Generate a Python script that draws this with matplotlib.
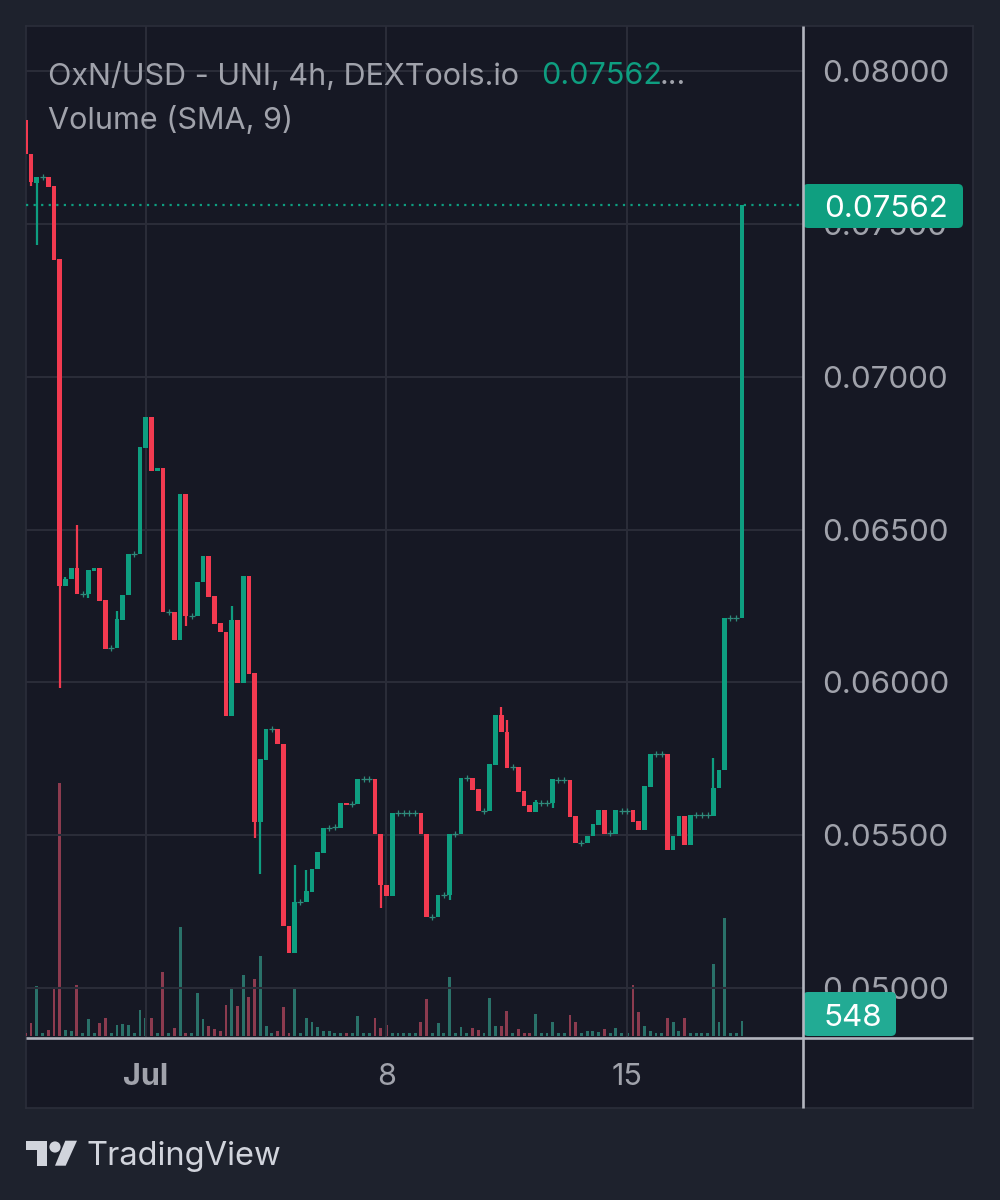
import numpy as np
import matplotlib
matplotlib.use("Agg")
import matplotlib.pyplot as plt
from matplotlib.patches import FancyBboxPatch, Circle, Polygon

plt.rcParams['font.family'] = ['Inter', 'DejaVu Sans']

# 4h candles, bar 0 is the 1 Jul open
bars = np.arange(-21, 105)

opens = [
    0.07841, 0.07730, 0.07635, 0.07654, 0.07654, 0.07625, 0.07386, 0.06315, 0.06338, 0.06374,
    0.06289, 0.06289, 0.06364, 0.06374, 0.06269, 0.06112, 0.06112, 0.06204, 0.06286, 0.06420,
    0.06420, 0.06767, 0.06869, 0.06692, 0.06702, 0.06230, 0.06230, 0.06138, 0.06616, 0.06217,
    0.06217, 0.06328, 0.06413, 0.06282, 0.06194, 0.06165, 0.05890, 0.06204, 0.05998, 0.06348,
    0.06030, 0.05542, 0.05745, 0.05847, 0.05847, 0.05798, 0.05202, 0.05113, 0.05280, 0.05280,
    0.05313, 0.05389, 0.05441, 0.05523, 0.05526, 0.05523, 0.05605, 0.05601, 0.05601, 0.05683,
    0.05683, 0.05683, 0.05503, 0.05336, 0.05300, 0.05572, 0.05572, 0.05572, 0.05572, 0.05572,
    0.05503, 0.05231, 0.05231, 0.05303, 0.05303, 0.05503, 0.05503, 0.05687, 0.05687, 0.05650,
    0.05579, 0.05579, 0.05729, 0.05893, 0.05837, 0.05723, 0.05723, 0.05644, 0.05598, 0.05575,
    0.05605, 0.05605, 0.05605, 0.05680, 0.05680, 0.05680, 0.05562, 0.05474, 0.05474, 0.05497,
    0.05533, 0.05582, 0.05506, 0.05503, 0.05579, 0.05579, 0.05582, 0.05546, 0.05516, 0.05657,
    0.05765, 0.05765, 0.05765, 0.05451, 0.05497, 0.05562, 0.05467, 0.05565, 0.05565, 0.05565,
    0.05562, 0.05654, 0.05713, 0.06210, 0.06210, 0.06210,
]
closes = [
    0.07730, 0.07638, 0.07654, 0.07654, 0.07622, 0.07383, 0.06315, 0.06338, 0.06374, 0.06289,
    0.06289, 0.06368, 0.06374, 0.06266, 0.06109, 0.06112, 0.06207, 0.06286, 0.06420, 0.06420,
    0.06770, 0.06869, 0.06692, 0.06702, 0.06230, 0.06230, 0.06138, 0.06616, 0.06217, 0.06217,
    0.06328, 0.06413, 0.06279, 0.06191, 0.06165, 0.05890, 0.06204, 0.05998, 0.06348, 0.06027,
    0.05542, 0.05749, 0.05847, 0.05847, 0.05798, 0.05202, 0.05113, 0.05280, 0.05280, 0.05317,
    0.05389, 0.05444, 0.05523, 0.05523, 0.05526, 0.05605, 0.05598, 0.05601, 0.05683, 0.05683,
    0.05683, 0.05503, 0.05336, 0.05300, 0.05572, 0.05572, 0.05572, 0.05572, 0.05572, 0.05503,
    0.05231, 0.05231, 0.05303, 0.05303, 0.05503, 0.05503, 0.05687, 0.05687, 0.05647, 0.05579,
    0.05579, 0.05732, 0.05893, 0.05837, 0.05719, 0.05723, 0.05641, 0.05595, 0.05575, 0.05608,
    0.05605, 0.05605, 0.05683, 0.05680, 0.05680, 0.05559, 0.05474, 0.05474, 0.05497, 0.05536,
    0.05582, 0.05503, 0.05506, 0.05582, 0.05579, 0.05579, 0.05542, 0.05516, 0.05660, 0.05765,
    0.05765, 0.05765, 0.05451, 0.05497, 0.05562, 0.05467, 0.05565, 0.05565, 0.05565, 0.05565,
    0.05654, 0.05713, 0.06210, 0.06210, 0.06210, 0.07562,
]
# only the bars whose wick sticks out of the body
wick_highs = {-14: 0.06345, -12: 0.06515, -5: 0.06233, 15: 0.06250, 26: 0.05402, 28: 0.05385,
              62: 0.05919, 63: 0.05876, 68: 0.05614, 99: 0.05752}
wick_lows = {-20: 0.07625, -19: 0.07432, -15: 0.05981, -10: 0.06276, 7: 0.06184, 19: 0.05490,
             20: 0.05372, 41: 0.05261, 53: 0.05287, 71: 0.05588}

volumes = [
    97, 487, 1815, 110, 207, 1754, 9245, 219, 195, 1876,
    97, 621, 97, 487, 646, 97, 414, 451, 414, 97,
    962, 646, 646, 122, 2326, 97, 292, 3971, 97, 110,
    1559, 621, 378, 268, 171, 1121, 1778, 1084, 2229, 1437,
    2071, 2923, 365, 97, 195, 1060, 122, 1730, 97, 670,
    512, 317, 195, 195, 97, 97, 110, 97, 743, 97,
    97, 670, 292, 402, 122, 97, 97, 97, 97, 512,
    1340, 97, 475, 97, 2168, 97, 317, 97, 292, 219,
    97, 1401, 365, 378, 926, 110, 268, 110, 110, 804,
    97, 97, 524, 97, 97, 767, 512, 97, 183, 183,
    134, 268, 97, 292, 97, 97, 1876, 865, 378, 171,
    97, 97, 658, 512, 195, 646, 97, 97, 97, 97,
    2619, 512, 4312, 97, 97, 548,
]

price_ticks = [0.05, 0.055, 0.06, 0.065, 0.07, 0.075, 0.08]
time_ticks = [0, 42, 84]
time_labels = ['Jul', '8', '15']

GREEN = '#0e9e80'
RED = '#f23a50'
GREEN_DIM = '#2a7169'
RED_DIM = '#8c3b4f'
GRID = '#2a2c38'
AXIS = '#b2b5be'
TEXT = '#a0a2ab'
OUTER = '#1e222d'
PANEL = '#161824'


def box(left, top, right, bottom):
    # pixel box to figure fractions
    return [left / 1000, 1 - bottom / 1200, (right - left) / 1000, (bottom - top) / 1200]


fig = plt.figure(figsize=(10, 12), dpi=100, facecolor=OUTER)

panel = fig.add_axes(box(26, 26, 973, 1108), zorder=0, facecolor=PANEL)
panel.set_xticks([])
panel.set_yticks([])
for s in panel.spines.values():
    s.set_color('#2b2e3a')
    s.set_linewidth(1.2)

opens_arr = np.array(opens)
closes_arr = np.array(closes)
is_up = closes_arr >= opens_arr

xlim = (-20.88, 114.65)

# volume histogram sits under the candles
vol_ax = fig.add_axes(box(26, 26, 803, 1036), zorder=1)
vol_ax.patch.set_alpha(0)
vol_ax.bar(bars, volumes, width=0.5, color=[GREEN_DIM if u else RED_DIM for u in is_up])
vol_ax.set_xlim(xlim)
vol_ax.set_ylim(0, 36900)
vol_ax.axis('off')

ax = fig.add_axes(box(26, 26, 803, 1037), zorder=2)
ax.patch.set_alpha(0)
ax.set_xlim(xlim)
ax.set_ylim(0.08234 - 3.2744e-5 * 1037, 0.08234 - 3.2744e-5 * 26)

ax.yaxis.tick_right()
ax.set_yticks(price_ticks)
ax.set_yticklabels(['%.5f' % p for p in price_ticks])
ax.set_xticks(time_ticks)
ax.set_xticklabels(time_labels)
ax.tick_params(axis='y', length=0, pad=14, labelsize=22.6, labelcolor=TEXT)
ax.tick_params(axis='x', length=0, pad=18.5, labelsize=22, labelcolor=TEXT)
ax.get_xticklabels()[0].set_fontweight('bold')
ax.grid(True, color=GRID, linewidth=1.5)
ax.set_axisbelow(True)
for s in ax.spines.values():
    s.set_visible(False)

ax.axhline(closes[-1], color=GREEN, linewidth=1.6, linestyle=(0, (1, 2.4)), zorder=1.5)

for i, b in enumerate(bars):
    o, c = opens[i], closes[i]
    color = GREEN if is_up[i] else RED
    if b in wick_highs or b in wick_lows:
        hi = wick_highs.get(b, max(o, c))
        lo = wick_lows.get(b, min(o, c))
        ax.vlines(b, lo, hi, color=color, linewidth=1.6, zorder=3)
    if o == c:
        # flat bars show up as a small cross
        ax.plot(b, c, marker='+', markersize=4, markeredgewidth=0.9, color='#2f8a7b', zorder=3)
    else:
        ax.bar(b, abs(c - o), bottom=min(o, c), width=0.82, color=color, zorder=3)

# everything laid out in pixels goes on top
top = fig.add_axes([0, 0, 1, 1], zorder=3)
top.patch.set_alpha(0)
top.set_xlim(0, 1000)
top.set_ylim(1200, 0)
top.axis('off')

top.plot([803, 803], [26, 1108], color=AXIS, linewidth=1.9, solid_capstyle='butt')
top.plot([26, 973], [1037.5, 1037.5], color=AXIS, linewidth=1.9, solid_capstyle='butt')

top.add_patch(FancyBboxPatch((803, 184), 160, 44, boxstyle='round,pad=0,rounding_size=5',
                             facecolor='#0f9f80', edgecolor='none'))
top.text(824, 206, '%.5f' % closes[-1], color='white', fontsize=22.6, va='center_baseline')
top.add_patch(FancyBboxPatch((803, 992), 93, 44, boxstyle='round,pad=0,rounding_size=5',
                             facecolor='#22ab94', edgecolor='none'))
top.text(824, 1015, str(volumes[-1]), color='white', fontsize=22.6, va='center_baseline')

top.text(48, 73, 'OxN/USD - UNI, 4h, DEXTools.io', color=TEXT, fontsize=22, va='center_baseline')
top.text(541, 73, '%.5f' % closes[-1], color=GREEN, fontsize=22, va='center_baseline')
top.text(660, 73, '...', color=TEXT, fontsize=22, va='center_baseline')
top.text(48, 117, 'Volume (SMA, 9)', color=TEXT, fontsize=22, va='center_baseline')

# TradingView mark
LOGO = '#d1d4dc'
top.add_patch(Polygon([(26, 1140.7), (46.7, 1140.7), (46.7, 1165.7), (36.7, 1165.7), (36.7, 1150), (26, 1150)],
                      facecolor=LOGO, edgecolor='none'))
top.add_patch(Circle((55, 1147), 5.6, facecolor=LOGO, edgecolor='none'))
top.add_patch(Polygon([(65.3, 1140.7), (77, 1140.7), (65.7, 1165.7), (55, 1165.7)],
                      facecolor=LOGO, edgecolor='none'))
top.text(87, 1153, 'TradingView', color=LOGO, fontsize=23.5, va='center_baseline')

fig.savefig('out.png', dpi=100, facecolor=OUTER)
